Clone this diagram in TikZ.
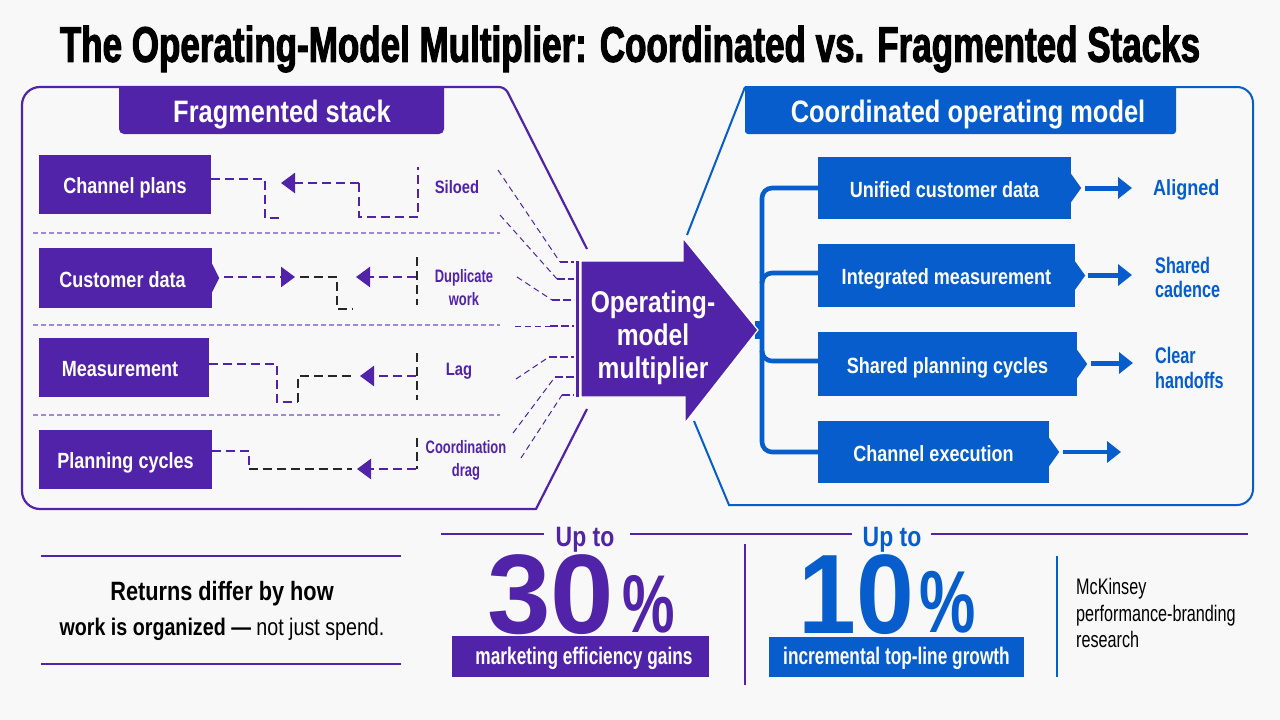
\documentclass[tikz,border=0pt]{standalone}
\usepackage{fontspec}
\usepackage{xcolor}
\usetikzlibrary{arrows.meta}
\setmainfont{Liberation Sans}[FakeStretch=0.82]
\newfontfamily\titlefont{Liberation Sans}[FakeStretch=0.7,FakeBold=2]
\newfontfamily\narrowfont{Liberation Sans}[FakeStretch=0.72]
\newfontfamily\bigfont{Liberation Sans}[FakeStretch=1.01]
\newfontfamily\bigfontb{Liberation Sans}[FakeStretch=0.92]
\newfontfamily\pctfont{Liberation Sans}[FakeStretch=0.72]
\definecolor{fragpurple}{HTML}{5123A8}
\definecolor{fragdash}{HTML}{A088D2}
\definecolor{coordblue}{HTML}{065DCB}
\definecolor{pagegray}{HTML}{F8F8F9}
\newcommand{\fsize}[1]{\fontsize{#1}{#1}\selectfont}
\tikzstyle{every node}=[inner sep=0pt, align=center]
\tikzstyle{fragbox} = [rectangle, fill=fragpurple, text=white, font=\bfseries\fsize{22}, text height=18pt, text depth=0pt]
\tikzstyle{coordbox} = [rectangle, fill=coordblue, text=white, font=\bfseries\fsize{22}, text height=18pt, text depth=0pt]
\tikzstyle{headtext} = [text=white, font=\bfseries\fsize{31}, text height=22pt, text depth=0pt]
\tikzstyle{gaintext} = [font=\narrowfont\bfseries\fsize{24}, text height=15pt, text depth=0pt]
\tikzstyle{fraglabel} = [text=fragpurple, font=\bfseries\fsize{18}]
\tikzstyle{fragsmall} = [text=fragpurple, font=\narrowfont\bfseries\fsize{18}]
\tikzstyle{coordlabel} = [text=coordblue, font=\bfseries\fsize{22}, align=left, anchor=west]
\tikzstyle{coordsmall} = [text=coordblue, font=\narrowfont\bfseries\fsize{22.5}, align=left, anchor=west]
\tikzstyle{fragline} = [draw=fragpurple, line width=2.5pt, dash pattern=on 9pt off 5pt]
\tikzstyle{blackline} = [draw=black!85, line width=2.4pt, dash pattern=on 9pt off 5pt]
\tikzstyle{fragarrow} = [fragline, -{Triangle[length=14pt,width=20pt]}]
\tikzstyle{funnel} = [draw=fragpurple, line width=1pt, dash pattern=on 6pt off 4pt]
\tikzstyle{funnelend} = [draw=fragpurple, line width=2.4pt, dash pattern=on 8pt off 3pt]
\tikzstyle{divider} = [draw=fragdash, line width=1.3pt, dash pattern=on 5pt off 3pt]
\tikzstyle{coordarrow} = [draw=coordblue, line width=5pt, -{Triangle[length=14pt,width=21pt]}]
\tikzstyle{bracket} = [draw=coordblue, line width=4.6pt, rounded corners=10pt]
\newcommand{\notch}[3]{\fill[#3] ([yshift=14pt]#1.east) -- ++(#2,14) -- ++(-#2,14) -- cycle;}
\begin{document}
\begin{tikzpicture}[x=1pt,y=-1pt]
    \useasboundingbox (0,0) rectangle (1280,720);
    \fill[pagegray] (0,0) rectangle (1280,720);
    % Title
    \node (title) at (630,49) {\titlefont\bfseries\fsize{50}The Operating-Model Multiplier: Coordinated vs. Fragmented Stacks};
    % Panels
    \coordinate (lefttop) at (587,249);
    \coordinate (leftbot) at (587,409);
    \coordinate (righttop) at (687,235);
    \coordinate (rightbot) at (694,421);
    \draw[fragpurple, line width=2.2pt, rounded corners=6pt] (lefttop) -- (505,87) -- (300,87);
    \draw[fragpurple, line width=2.2pt, rounded corners=18pt] (300,87) -- (22,87) -- (22,509) -- (300,509);
    \draw[fragpurple, line width=2.2pt] (300,509) -- (536,509) -- (leftbot);
    \draw[coordblue, line width=2pt] (righttop) -- (745,87);
    \draw[coordblue, line width=2pt, rounded corners=16pt] (1170,87) -- (1253,87) -- (1253,505) -- (900,505);
    \draw[coordblue, line width=2pt] (900,505) -- (729,505) -- (rightbot);
    \fill[fragpurple] (119,86) [rounded corners=5pt] -- (119,134) -- (444,134) [sharp corners] -- (444,86) -- cycle;
    \fill[coordblue] (745,86) [rounded corners=3pt] -- (745,134) -- (1176,134) [sharp corners] -- (1176,86) -- cycle;
    \node [headtext] (fraghead) at (282,111) {Fragmented stack};
    \node [headtext] (coordhead) at (968,111) {Coordinated operating model};
    % Place nodes on the left
    \node [fragbox, minimum width=172, minimum height=59] (chplans) at (125,184.5) {Channel plans};
    \node [fragbox, minimum width=173, minimum height=60] (custdata) at (125.5,278) {Customer data\hspace{6pt}};
    \node [fragbox, minimum width=170, minimum height=59] (measure) at (124,367.5) {Measurement\hspace{8pt}};
    \node [fragbox, minimum width=173, minimum height=59] (planning) at (125.5,459.5) {Planning cycles};
    \notch{custdata}{7}{fragpurple}
    \node [fraglabel] (siloed) at (457,187) {Siloed};
    \node [fragsmall] (dupl) at (464,288) {Duplicate\\[5pt]work};
    \node [fraglabel] (lag) at (459,371) {Lag};
    \node [fragsmall] (drag) at (466,460) {Coordination\\[5pt]drag};
    \draw[divider] (33,233) -- (500,233);
    \draw[divider] (33,325) -- (500,325);
    \draw[divider] (33,415) -- (500,415);
    % Draw the broken routes
    \draw[fragline] ([yshift=5.5pt]chplans.east) -- ++(54,0) -- ++(0,39) -- ++(17,0);
    \coordinate (silofoot) at (359,183);
    \draw[fragarrow] (silofoot) -- (281,183);
    \draw[fragline] (silofoot) -- (359,217) -- (418,217) -- (418,167);
    \draw[fragarrow] ([xshift=12pt,yshift=1pt]custdata.east) -- (295,277);
    \draw[blackline] (300,277) -- (337,277) -- (337,309) -- (353,309);
    \draw[fragarrow] (416,277) -- (356,277);
    \draw[blackline] (417,257) -- (417,305);
    \draw[fragline] ([yshift=3.5pt]measure.east) -- ++(68,0) -- ++(0,38) -- ++(21,0);
    \draw[blackline] (298,402) -- (298,376) -- (352,376);
    \draw[fragarrow] (416,376) -- (360,376);
    \draw[blackline] (417,353) -- (417,400);
    \draw[fragline] ([yshift=8.5pt]planning.east) -- ++(37,0) -- ++(0,18);
    \draw[blackline] (249,469) -- (352,469);
    \draw[fragarrow] (416,469) -- (357,469);
    \draw[blackline] (417,438) -- (417,469);
    % Funnel into the multiplier
    \foreach \xa/\ya/\xb/\yb in {498/170/560/262, 500/215/557/279, 517/277/552/300, 515/326/550/326, 516/379/549/357, 513/433/555/377, 521/458/562/395}
        {
        \draw[funnel] (\xa,\ya) -- (\xb,\yb);
        \draw[funnelend] (\xb,\yb) -- (574,\yb);
        }
    % Multiplier arrow
    \fill[coordblue] (755,321) -- (763,321) -- (763,339) -- (755,339) -- cycle;
    \fill[fragpurple] (576,261) rectangle (579,397);
    \draw[fill=fragpurple, draw=white, line width=1.2pt] (581,261) -- (683,261) -- (683,238) -- (758,330) -- (685,423) -- (685,397) -- (581,397) -- cycle;
    \node [text=white, font=\bfseries\fsize{30}] (multi) at (653,338) {Operating-\\[3pt]model\\[3pt]multiplier};
    % Place nodes on the right
    \node [coordbox, minimum width=253, minimum height=62] (unified) at (944.5,188) {Unified customer data};
    \node [coordbox, minimum width=257, minimum height=63] (integr) at (946.5,275.5) {Integrated measurement};
    \node [coordbox, minimum width=259, minimum height=64] (shared) at (947.5,364) {Shared planning cycles};
    \node [coordbox, minimum width=231, minimum height=62] (chexec) at (933.5,452) {Channel execution};
    \notch{unified}{10}{coordblue}
    \notch{integr}{10}{coordblue}
    \notch{shared}{10}{coordblue}
    \notch{chexec}{10}{coordblue}
    \node [coordlabel] (aligned) at (1153,190) {Aligned};
    \node [coordsmall] (cadence) at (1155,277.5) {\bfseries Shared\\[2pt]cadence};
    \node [coordsmall] (handoff) at (1155,368) {\bfseries Clear\\[2pt]handoffs};
    \coordinate (arrowa) at (1132,188);
    \coordinate (arrowb) at (1132,275);
    \coordinate (arrowc) at (1133,363);
    \coordinate (arrowd) at (1121,452);
    % Draw edges
    \path [coordarrow] ([xshift=14pt]unified.east) -- (arrowa);
    \path [coordarrow] ([xshift=13pt,yshift=0.5pt]integr.east) -- (arrowb);
    \path [coordarrow] ([xshift=14pt,yshift=1pt]shared.east) -- (arrowc);
    \path [coordarrow, line width=3.6pt] ([xshift=14pt]chexec.east) -- (arrowd);
    \path [bracket] (unified.west) -- (762,188) -- (762,452) -- (chexec.west);
    \path [bracket] (762,282) -- (762,273) -- (integr.west |- 0,273);
    \path [bracket] (762,352) -- (762,361) -- (shared.west |- 0,361);
    % Bottom left message
    \draw[fragpurple, line width=1.6pt] (41,556) -- (401,556);
    \draw[fragpurple, line width=1.6pt] (41,664) -- (401,664);
    \node [font=\bfseries\fsize{26.5}] (msga) at (222,594) {Returns differ by how};
    \node [font=\fsize{24}] (msgb) at (222,629) {\textbf{work is organized —} not just spend.};
    % Stats
    \draw[fragpurple, line width=2pt] (441,534) -- (544,534);
    \draw[fragpurple, line width=2pt] (630,534) -- (852,534);
    \draw[fragpurple, line width=2pt] (931,534) -- (1248,534);
    \node [text=fragpurple, font=\bfseries\fsize{28}] (upa) at (585,540) {Up to};
    \node [text=coordblue, font=\bfseries\fsize{28}] (upb) at (892,540) {Up to};
    \node [text=fragpurple, anchor=base west, text depth=0pt] (numa) at (487,633) {\bigfont\bfseries\fsize{113}30};
    \node [text=fragpurple, anchor=base west, text depth=0pt] (pcta) at (622,632) {\pctfont\bfseries\fsize{82}\%};
    \node [text=coordblue, anchor=base west, text depth=0pt] (numb) at (798,633) {\bigfontb\bfseries\fsize{113}10};
    \node [text=coordblue, anchor=base west, text depth=0pt] (pctb) at (919,632) {\pctfont\bfseries\fsize{88}\%};
    \node [fragbox, minimum width=257, minimum height=41, gaintext] (gaina) at (580.5,656.5) {\hspace{7pt}marketing efficiency gains};
    \node [coordbox, minimum width=255, minimum height=40, gaintext] (gainb) at (896.5,657) {incremental top-line growth};
    \draw[fragpurple, line width=2pt] (745,544) -- (745,685);
    \draw[coordblue, line width=1.6pt] (1057,556) -- (1057,677);
    \node [font=\narrowfont\fsize{22.5}, align=left, anchor=north west] (source) at (1076,578) {McKinsey\\[4pt]performance-branding\\[4pt]research};
\end{tikzpicture}
\end{document}
